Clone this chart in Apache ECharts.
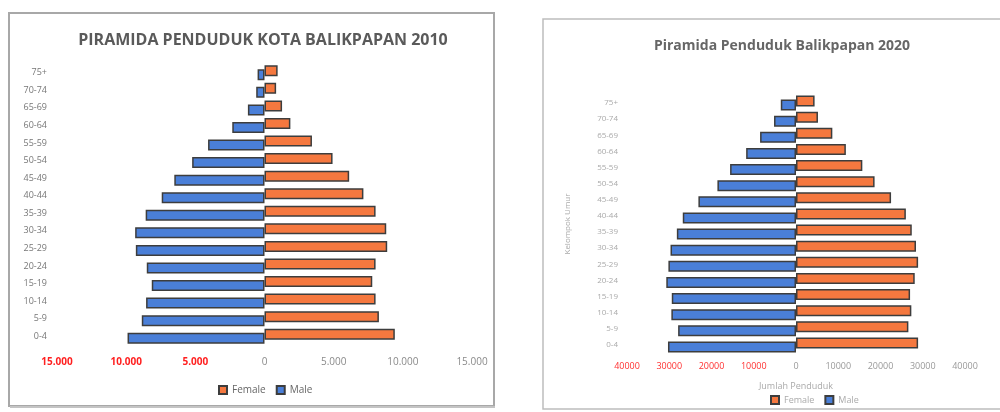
<!DOCTYPE html>
<html>
<head>
<meta charset="utf-8">
<script src="https://cdn.jsdelivr.net/npm/echarts@6/dist/echarts.min.js"></script>
<style>html,body{margin:0;padding:0;background:#fff}#c{width:1000px;height:412px}</style>
</head>
<body>
<div id="c"></div>
<script>
// Age groups, bottom to top
const ageGroups = ['0-4','5-9','10-14','15-19','20-24','25-29','30-34','35-39','40-44','45-49','50-54','55-59','60-64','65-69','70-74','75+'];
// 2010 (left chart)
const male2010   = [9900, 8870, 8560, 8150, 8510, 9300, 9350, 8590, 7430, 6520, 5230, 4080, 2330, 1200, 600, 500];
const female2010 = [9420, 8270, 8030, 7790, 8030, 8870, 8800, 8030, 7150, 6120, 4920, 3430, 1870, 1270, 840, 950];
// 2020 (right chart)
const male2020   = [30300, 27900, 29500, 29400, 30700, 30200, 29700, 28200, 26800, 23100, 18600, 15600, 11800, 8500, 5200, 3600];
const female2020 = [28900, 26600, 27300, 27000, 28100, 28900, 28400, 27400, 26000, 22500, 18600, 15700, 11800, 8600, 5200, 4400];
// Tick labels
const ticks2010 = ['15.000','10.000','5.000','0','5.000','10.000','15.000'];
const ticks2020 = ['40000','30000','20000','10000','0','10000','20000','30000','40000'];

const BLUE = '#4a7fd8', ORANGE = '#f5783f', EDGE = '#3d3d3d';
const FONT = '"Open Sans", "Liberation Sans", sans-serif';

function tickFmt(ticks, min, interval) {
  return function (v) {
    const i = Math.round((v - min) / interval);
    const t = ticks[i] !== undefined ? ticks[i] : String(v);
    return v < 0 ? '{neg|' + t + '}' : '{pos|' + t + '}';
  };
}

const chart = echarts.init(document.getElementById('c'), null, {renderer: 'canvas'});
chart.setOption({
  backgroundColor: '#fff',
  animation: false,
  textStyle: {fontFamily: FONT},
  graphic: [
    {type: 'rect', shape: {x: 9, y: 13, width: 485, height: 393}, style: {fill: 'none', stroke: '#a8a8a8', lineWidth: 2}, z: -1},
    {type: 'line', shape: {x1: 10, y1: 407, x2: 495, y2: 407}, style: {stroke: '#c4c4c4', lineWidth: 2}, z: -1},
    {type: 'rect', shape: {x: 543, y: 19, width: 480, height: 390}, style: {fill: 'none', stroke: '#bdbdbd', lineWidth: 1.5}, z: -1}
  ],
  title: [
    {text: 'PIRAMIDA PENDUDUK KOTA BALIKPAPAN 2010', left: 258, top: 27, textAlign: 'center',
     textStyle: {fontFamily: FONT, fontWeight: 'bold', fontSize: 16, color: '#5a5a5a'}},
    {text: 'Piramida Penduduk Balikpapan 2020', left: 777, top: 34, textAlign: 'center',
     textStyle: {fontFamily: FONT, fontWeight: 'bold', fontSize: 14, color: '#666'}}
  ],
  legend: [
    {data: ['Female','Male'], left: 213, top: 380, itemWidth: 8, itemHeight: 8, itemGap: 10, icon: 'rect',
     textStyle: {fontSize: 10, color: '#666', fontFamily: FONT}, selectedMode: false},
    {data: ['Female','Male'], left: 765, top: 390, itemWidth: 8, itemHeight: 8, itemGap: 10, icon: 'rect',
     textStyle: {fontSize: 9, color: '#aaa', fontFamily: FONT}, selectedMode: false}
  ],
  grid: [
    {left: 57, right: 528, top: 64, height: 281},
    {left: 627, right: 35, top: 95, height: 258}
  ],
  xAxis: [
    {type: 'value', gridIndex: 0, min: -15000, max: 15000, interval: 5000,
     axisLine: {show: false}, axisTick: {show: false}, splitLine: {show: false},
     axisLabel: {margin: 12, formatter: tickFmt(ticks2010, -15000, 5000),
       rich: {neg: {color: '#ff2020', fontWeight: 'bold', fontSize: 10, fontFamily: FONT},
              pos: {color: '#8a8a8a', fontSize: 10, fontFamily: FONT}}}},
    {type: 'value', gridIndex: 1, min: -40000, max: 40000, interval: 10000,
     axisLine: {show: false}, axisTick: {show: false}, splitLine: {show: false},
     name: 'Jumlah Penduduk', nameLocation: 'middle', nameGap: 29,
     nameTextStyle: {fontSize: 9, color: '#aaa', fontFamily: FONT},
     axisLabel: {margin: 9, formatter: tickFmt(ticks2020, -40000, 10000),
       rich: {neg: {color: '#ff3030', fontSize: 9, fontFamily: FONT},
              pos: {color: '#999', fontSize: 9, fontFamily: FONT}}}}
  ],
  yAxis: [
    {type: 'category', gridIndex: 0, data: ageGroups,
     axisLine: {show: false}, axisTick: {show: false},
     axisLabel: {margin: 10, fontSize: 9, color: '#777', fontFamily: FONT}},
    {type: 'category', gridIndex: 1, data: ageGroups,
     axisLine: {show: false}, axisTick: {show: false},
     name: 'Kelompok Umur', nameLocation: 'middle', nameRotate: 90, nameGap: 55,
     nameTextStyle: {fontSize: 8, color: '#aaa', fontFamily: FONT},
     axisLabel: {margin: 9, fontSize: 8, color: '#aaa', fontFamily: FONT}}
  ],
  series: [
    {name: 'Female', type: 'bar', xAxisIndex: 0, yAxisIndex: 0, data: female2010,
     barWidth: 11, barGap: '-64%',
     itemStyle: {color: ORANGE, borderColor: EDGE, borderWidth: 1.5}},
    {name: 'Male', type: 'bar', xAxisIndex: 0, yAxisIndex: 0, data: male2010.map(v => -v),
     barWidth: 11, barGap: '-64%',
     itemStyle: {color: BLUE, borderColor: EDGE, borderWidth: 1.5}},
    {name: 'Female', type: 'bar', xAxisIndex: 1, yAxisIndex: 1, data: female2020,
     barWidth: 11, barGap: '-64%',
     itemStyle: {color: ORANGE, borderColor: EDGE, borderWidth: 1.5}},
    {name: 'Male', type: 'bar', xAxisIndex: 1, yAxisIndex: 1, data: male2020.map(v => -v),
     barWidth: 11, barGap: '-64%',
     itemStyle: {color: BLUE, borderColor: EDGE, borderWidth: 1.5}}
  ]
});
</script>
</body>
</html>
